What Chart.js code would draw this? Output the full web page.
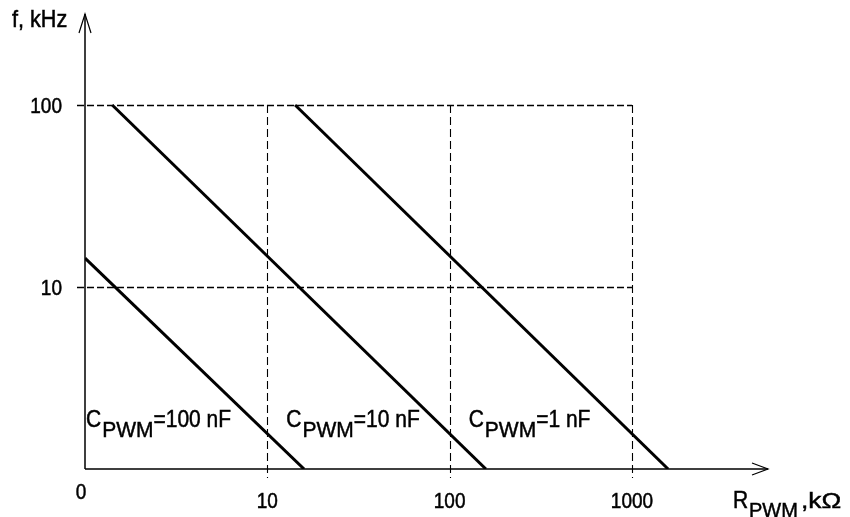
<!DOCTYPE html>
<html>
<head>
<meta charset="utf-8">
<script src="https://cdn.jsdelivr.net/npm/chart.js@4/dist/chart.umd.min.js"></script>
<style>
  html, body { margin: 0; padding: 0; background: #fff; }
  #chart { display: block; }
</style>
</head>
<body>
<canvas id="chart" width="850" height="517"></canvas>
<script>
// R_PWM (kOhm) and f (kHz) end points of each curve
const r100nF = [1, 15.9];
const f100nF = [14.4, 1];
const r10nF = [1.41, 158];
const f10nF = [100, 1];
const r1nF = [14.2, 1578];
const f1nF = [100, 1];

const xTicks = [1, 10, 100, 1000];
const xTickLabels = ['0', '10', '100', '1000'];
const yTicks = [10, 100];
const yTickLabels = ['10', '100'];
const gridX = [10, 100, 1000];
const gridY = [10, 100];

var toPoints = function(xs, ys) {
  return xs.map(function(x, i) { return { x: x, y: ys[i] }; });
};

var FONT = '"Liberation Sans", Arial, sans-serif';

// text in the source is a bit stretched vertically and heavier
var drawText = function(ctx, text, px, py, size, sx, sy) {
  ctx.save();
  ctx.font = size + 'px ' + FONT;
  ctx.translate(px, py);
  ctx.scale(sx || 1, sy || 1.18);
  ctx.lineWidth = 0.45;
  ctx.strokeStyle = '#000';
  ctx.fillText(text, 0, 0);
  ctx.strokeText(text, 0, 0);
  const w = ctx.measureText(text).width * (sx || 1);
  ctx.restore();
  return w;
};

// dashed grid, axes with arrows and all texts
var diagramPlugin = {
  id: 'diagram',
  beforeDatasetsDraw(chart) {
    const { ctx, chartArea: { left, right, top, bottom }, scales: { x, y } } = chart;
    const xEnd = x.getPixelForValue(1000);
    const yTop = y.getPixelForValue(100);
    ctx.save();
    ctx.strokeStyle = '#000';
    // horizontal dashes
    ctx.lineWidth = 1.4;
    ctx.setLineDash([7, 3]);
    gridY.forEach(function(v) {
      const py = Math.round(y.getPixelForValue(v)) + 0.5;
      ctx.beginPath();
      ctx.moveTo(left - 8, py);
      ctx.lineTo(xEnd, py);
      ctx.stroke();
    });
    // vertical dashes
    ctx.lineWidth = 1.1;
    ctx.setLineDash([8, 4]);
    gridX.forEach(function(v) {
      const px = Math.round(x.getPixelForValue(v)) + 0.5;
      ctx.beginPath();
      ctx.moveTo(px, yTop);
      ctx.lineTo(px, bottom + 9);
      ctx.stroke();
    });
    ctx.setLineDash([]);

    // axes
    ctx.lineWidth = 1.5;
    ctx.beginPath();
    ctx.moveTo(left, bottom);
    ctx.lineTo(right, bottom);
    ctx.moveTo(left, bottom);
    ctx.lineTo(left, top);
    ctx.stroke();
    ctx.lineWidth = 1.2;
    ctx.beginPath();
    ctx.moveTo(left - 6, top + 19);
    ctx.lineTo(left, top);
    ctx.lineTo(left + 6, top + 19);
    ctx.moveTo(right - 16, bottom - 6);
    ctx.lineTo(right, bottom);
    ctx.lineTo(right - 16, bottom + 6);
    ctx.stroke();
    ctx.restore();
  },
  afterDraw(chart) {
    const { ctx, chartArea: { left, right, top, bottom }, scales: { x, y } } = chart;
    ctx.save();
    ctx.fillStyle = '#000';
    ctx.textBaseline = 'alphabetic';

    // tick labels
    ctx.textAlign = 'right';
    yTicks.forEach(function(v, i) {
      drawText(ctx, yTickLabels[i], left - 23, y.getPixelForValue(v) + 8, 19);
    });
    ctx.textAlign = 'center';
    xTicks.forEach(function(v, i) {
      let px = x.getPixelForValue(v);
      let py = bottom + 39;
      if (i == 0) { px -= 4; py = bottom + 30; }
      drawText(ctx, xTickLabels[i], px, py, 19);
    });

    // axis titles
    ctx.textAlign = 'left';
    drawText(ctx, 'f, kHz', 12, 27, 21, 1.03, 1.15);
    drawText(ctx, 'R', 733, 508, 21, 1, 1.1);
    drawText(ctx, 'PWM', 749, 517, 20, 1, 1.05);
    drawText(ctx, ',kΩ', 801, 508, 22, 1.2, 1.0);

    // curve labels
    var drawC = function(px, text) {
      const base = 427;
      let w = drawText(ctx, 'C', px, base, 21, 1, 1.12) + 1;
      w += drawText(ctx, 'PWM', px + w, base + 10, 21, 1, 1.08);
      drawText(ctx, text, px + w, base, 21, 1, 1.12);
    };
    drawC(x.getPixelForValue(1) + 1, '=100 nF');
    drawC(x.getPixelForValue(10) + 19, '=10 nF');
    drawC(x.getPixelForValue(100) + 19, '=1 nF');
    ctx.restore();
  }
};

var lineStyle = {
  borderColor: '#000',
  borderWidth: 3,
  pointRadius: 0,
  fill: false,
  tension: 0
};

new Chart(document.getElementById('chart'), {
  type: 'line',
  data: {
    datasets: [
      Object.assign({ label: 'CPWM=100 nF', data: toPoints(r100nF, f100nF) }, lineStyle),
      Object.assign({ label: 'CPWM=10 nF', data: toPoints(r10nF, f10nF) }, lineStyle),
      Object.assign({ label: 'CPWM=1 nF', data: toPoints(r1nF, f1nF) }, lineStyle)
    ]
  },
  options: {
    responsive: false,
    animation: false,
    layout: { padding: { left: 85, right: 82, top: 14, bottom: 48 } },
    plugins: { legend: { display: false }, tooltip: { enabled: false } },
    scales: {
      x: { type: 'logarithmic', min: 1, max: 5572, display: false },
      y: { type: 'logarithmic', min: 1, max: 316, display: false }
    }
  },
  plugins: [diagramPlugin]
});
</script>
</body>
</html>
